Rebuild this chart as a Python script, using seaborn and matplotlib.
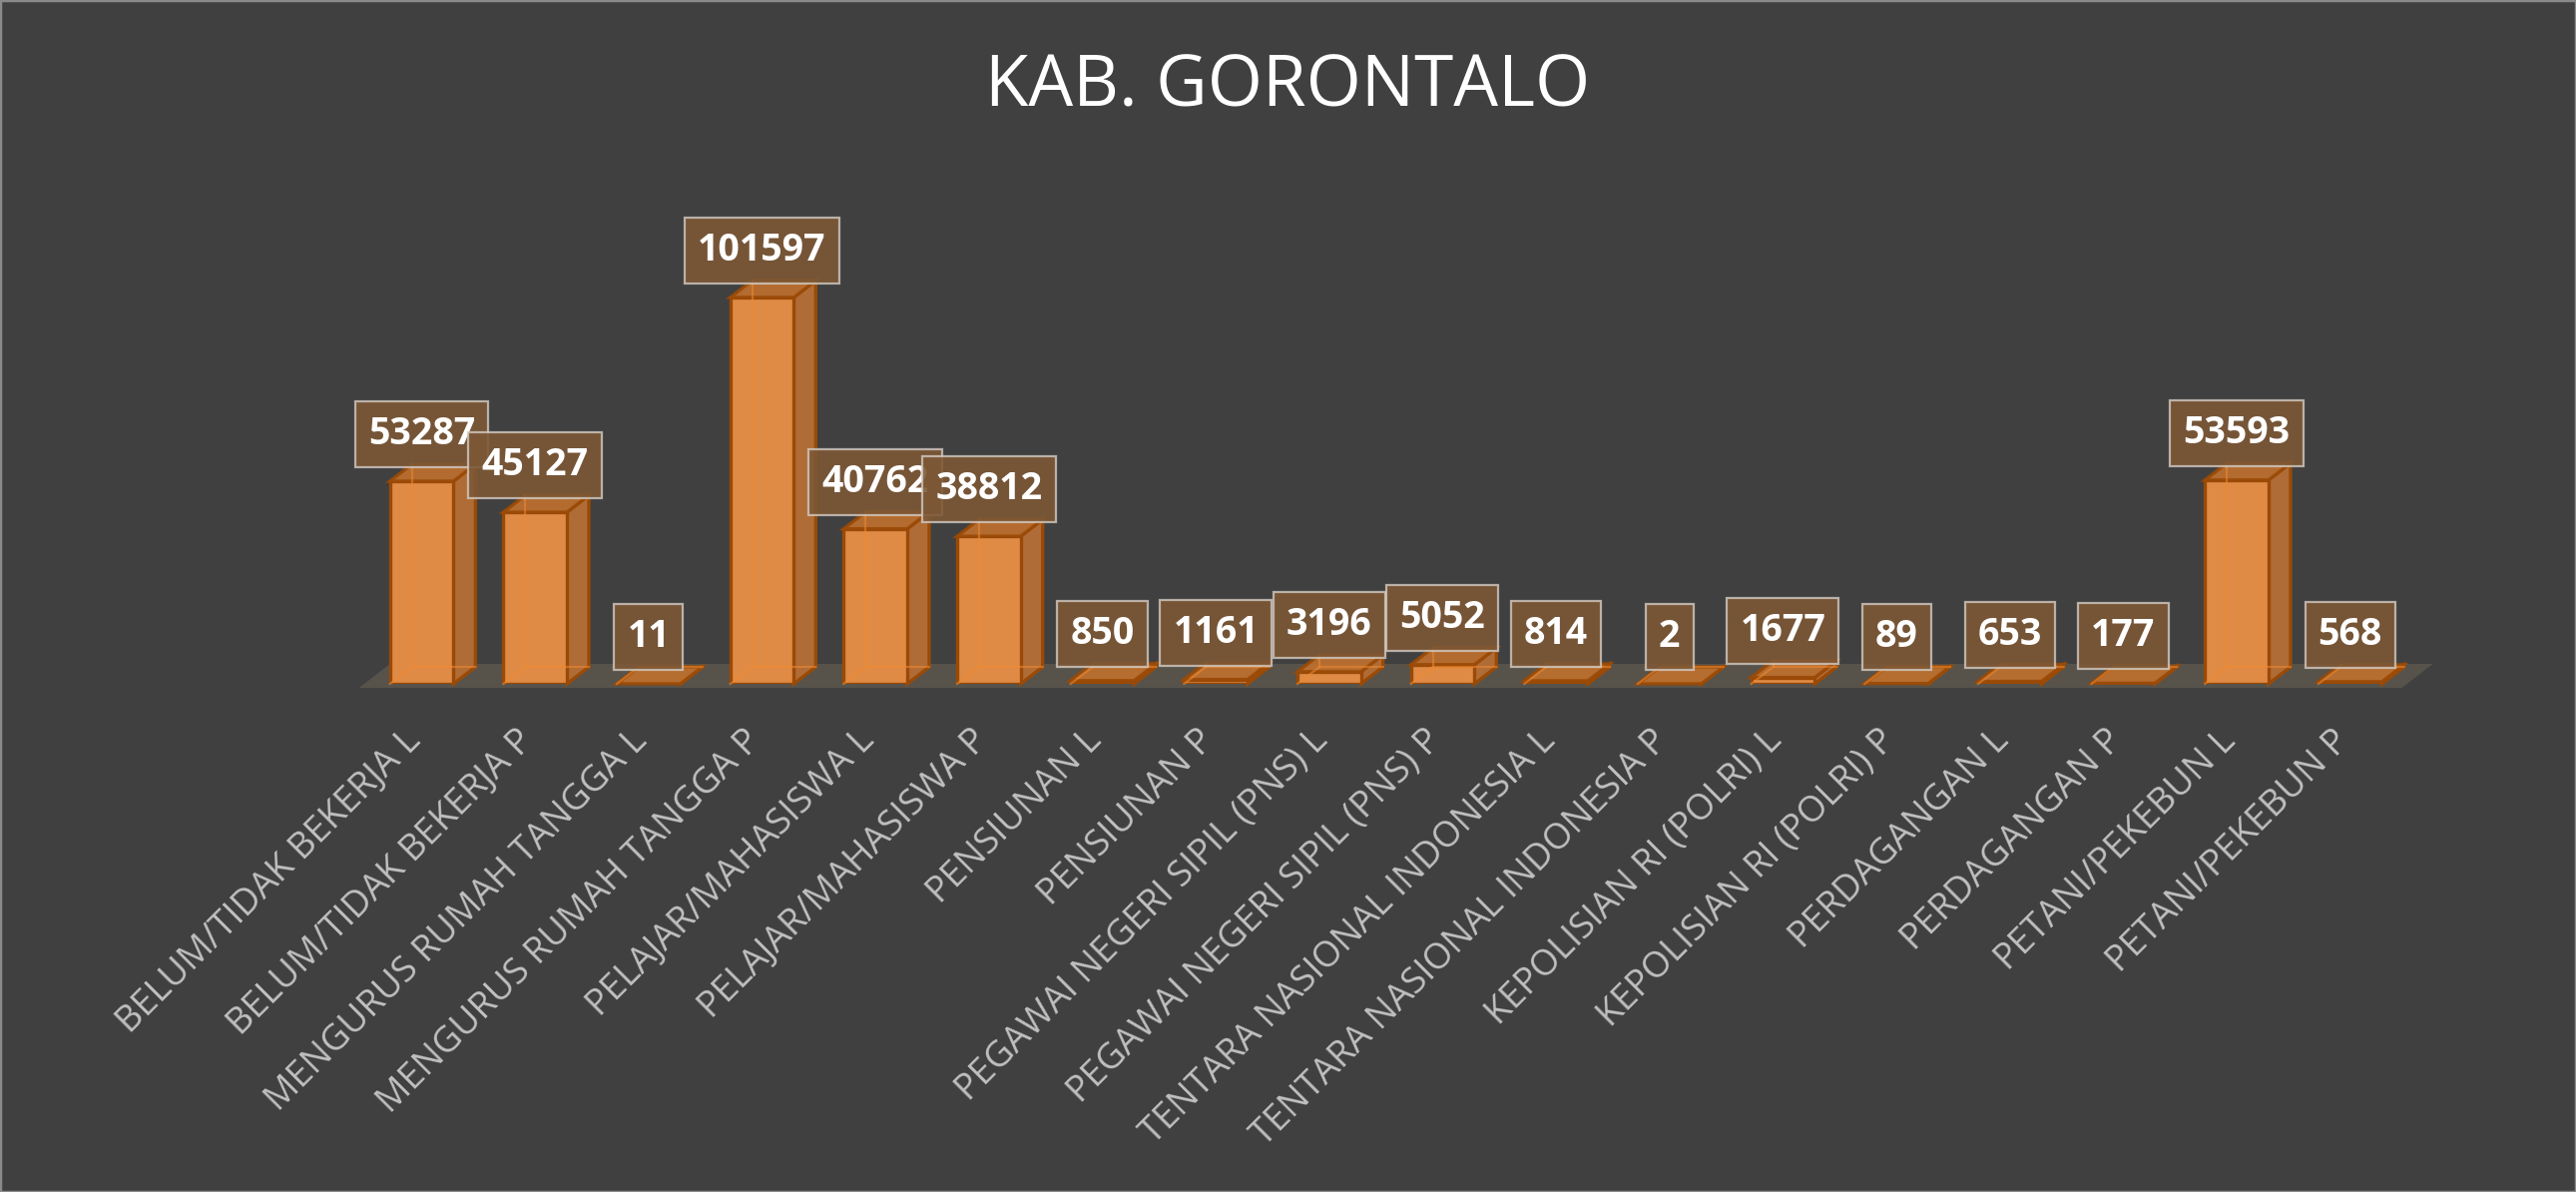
import matplotlib
matplotlib.use('Agg')
import matplotlib.pyplot as plt
import seaborn as sns
from matplotlib.patches import Polygon, Rectangle

categories = [
    "BELUM/TIDAK BEKERJA L", "BELUM/TIDAK BEKERJA P",
    "MENGURUS RUMAH TANGGA L", "MENGURUS RUMAH TANGGA P",
    "PELAJAR/MAHASISWA L", "PELAJAR/MAHASISWA P",
    "PENSIUNAN L", "PENSIUNAN P",
    "PEGAWAI NEGERI SIPIL (PNS) L", "PEGAWAI NEGERI SIPIL (PNS) P",
    "TENTARA NASIONAL INDONESIA L", "TENTARA NASIONAL INDONESIA P",
    "KEPOLISIAN RI (POLRI) L", "KEPOLISIAN RI (POLRI) P",
    "PERDAGANGAN L", "PERDAGANGAN P",
    "PETANI/PEKEBUN L", "PETANI/PEKEBUN P",
]
values = [53287, 45127, 11, 101597, 40762, 38812, 850, 1161, 3196, 5052,
          814, 2, 1677, 89, 653, 177, 53593, 568]
title = "KAB. GORONTALO"

BG = '#404040'
FRONT = '#df8a45'
SIDE = '#b06c36'
TOP = '#c0702e'
EDGE = '#9a4a06'
FONT = 'Open Sans'

W, H = 2581, 1194
fig = plt.figure(figsize=(W / 100, H / 100), dpi=100, facecolor=BG)
ax = fig.add_axes([365.7 / W, (H - 685) / H, 2045.9 / W, 457.2 / H])
ax.set_facecolor(BG)

sns.barplot(x=categories, y=values, color=FRONT, saturation=1, width=0.56,
            edgecolor=EDGE, linewidth=2.4, ax=ax, zorder=3)
ax.set_xlim(-0.5, len(categories) - 0.5)
ax.set_ylim(0, 120000)

# pixel -> data conversions
ppx = ax.transData.transform((1, 0))[0] - ax.transData.transform((0, 0))[0]
ppy = ax.transData.transform((0, 1000))[1] - ax.transData.transform((0, 0))[1]
px_x = lambda p: p / ppx
px_y = lambda p: p * 1000 / ppy

# floor
fx0, fx1 = -0.5 - px_x(6), len(categories) - 0.5 - px_x(5)
fy0, fdx, fdy = -px_y(4), px_x(31), px_y(24)
ax.add_patch(Polygon([(fx0, fy0), (fx1, fy0), (fx1 + fdx, fy0 + fdy), (fx0 + fdx, fy0 + fdy)],
                     closed=True, facecolor='#57534b', edgecolor='none', zorder=1, clip_on=False))

# 3d faces
dx, dy = px_x(22), px_y(17)
for p in ax.patches[:]:
    if not isinstance(p, Rectangle):
        continue
    x0, w, h = p.get_x(), p.get_width(), p.get_height()
    x1 = x0 + w
    ax.add_patch(Polygon([(x1, 0), (x1 + dx, dy), (x1 + dx, h + dy), (x1, h)], closed=True,
                         facecolor=SIDE, edgecolor=EDGE, linewidth=2.4, zorder=2, clip_on=False))
    ax.add_patch(Polygon([(x0, h), (x1, h), (x1 + dx, h + dy), (x0 + dx, h + dy)], closed=True,
                         facecolor=TOP, alpha=0.9, edgecolor=EDGE, linewidth=2.4, zorder=4, clip_on=False))
    # hidden edges showing through
    ax.plot([x0 + dx, x0 + dx], [dy, h + dy], color='#f08a30', lw=1.6, alpha=0.55, zorder=4, clip_on=False)
    ax.plot([x0, x0 + dx, x1 + dx], [0, dy, dy], color='#f08a30', lw=1.6, alpha=0.55, zorder=4, clip_on=False)

# data labels
for i, v in enumerate(values):
    s = str(v)
    bw, bh = px_x(21.5 * len(s) + 26), px_y(66)
    cy = v + px_y(47)
    z = 10 + 2 * i
    ax.add_patch(Rectangle((i - bw / 2, cy - bh / 2), bw, bh, facecolor='#7d5836', alpha=0.9,
                           edgecolor='none', zorder=z, clip_on=False))
    ax.add_patch(Rectangle((i - bw / 2, cy - bh / 2), bw, bh, facecolor='none',
                           edgecolor='#d4ccc4', alpha=0.8, linewidth=1.6, zorder=z, clip_on=False))
    ax.text(i, cy, s, ha='center', va='center', color='white', fontsize=27,
            fontweight='bold', family=FONT, zorder=z + 1, clip_on=False)

ax.set_xticks(range(len(categories)))
ax.set_xticklabels(categories, rotation=45, ha='right', va='baseline', rotation_mode='anchor',
                   color='#c0c0c0', fontsize=26, family=FONT)
ax.tick_params(axis='x', length=0, pad=42)
ax.set_yticks([])
ax.set_xlabel('')
ax.set_ylabel('')
for sp in ax.spines.values():
    sp.set_visible(False)

fig.text(0.5, 1 - 88 / H, title, ha='center', va='center', color='white', fontsize=51, family=FONT)
fig.add_artist(Rectangle((0, 0), 1, 1, transform=fig.transFigure, facecolor='none',
                         edgecolor='#8a8a8a', linewidth=2.5, zorder=50))

fig.savefig('out.png', dpi=100, facecolor=BG)
